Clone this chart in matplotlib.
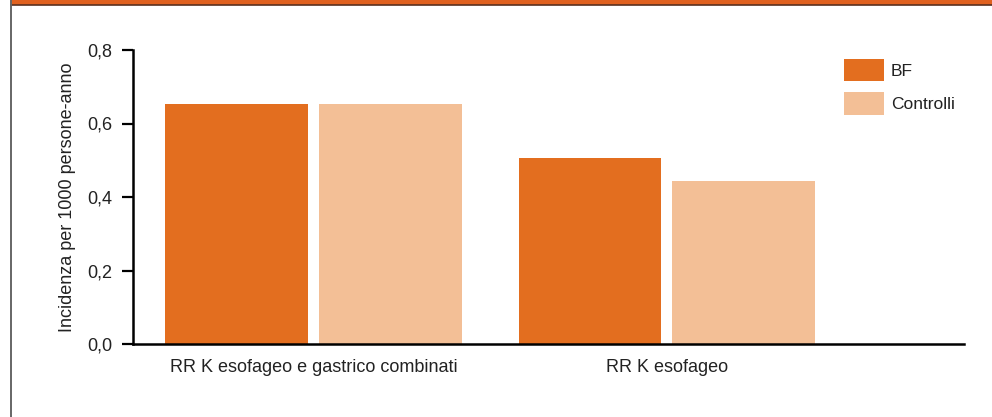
import matplotlib
matplotlib.use("Agg")
import matplotlib.pyplot as plt
from matplotlib.patches import Rectangle
from matplotlib.lines import Line2D
from matplotlib import font_manager

categories = ["RR K esofageo e gastrico combinati", "RR K esofageo"]
series_names = ["BF", "Controlli"]
bf_values = [0.653, 0.506]
controlli_values = [0.653, 0.444]
y_ticks = [0.0, 0.2, 0.4, 0.6, 0.8]
y_tick_labels = ["0,0", "0,2", "0,4", "0,6", "0,8"]
y_label = "Incidenza per 1000 persone-anno"

color_bf = "#E36E1F"
color_ctrl = "#F3BF96"

installed = {f.name for f in font_manager.fontManager.ttflist}
family = "Liberation Sans Narrow" if "Liberation Sans Narrow" in installed else "Liberation Sans"
plt.rcParams["font.family"] = [family, "DejaVu Sans"]

W, H = 992, 417
fig = plt.figure(figsize=(W / 100, H / 100), dpi=100)

# frame decorations: orange top band and grey left rule
fig.patches.append(Rectangle((11 / W, 1 - 4.5 / H), 1 - 11 / W, 4.5 / H,
                             transform=fig.transFigure, facecolor="#E0611F",
                             edgecolor="none"))
fig.lines.append(Line2D([11 / W, 1], [1 - 5 / H, 1 - 5 / H],
                        transform=fig.transFigure, color="#5a3020", lw=1.2))
fig.lines.append(Line2D([10.5 / W, 10.5 / W], [0, 1],
                        transform=fig.transFigure, color="#666666", lw=1.4))

ax = fig.add_axes([133 / W, 1 - 344 / H, (964 - 133) / W, (344 - 50) / H])

width = 0.404
offset = 0.2175
x = range(len(categories))
ax.bar([i - offset for i in x], bf_values, width, color=color_bf, label=series_names[0], zorder=1)
ax.bar([i + offset for i in x], controlli_values, width, color=color_ctrl, label=series_names[1], zorder=1)

ax.set_xlim(-0.51, 1.84)
ax.set_ylim(0, 0.8)
ax.set_yticks(y_ticks)
ax.set_yticklabels(y_tick_labels, fontsize=13, color="#222222")
ax.set_xticks(list(x))
ax.set_xticklabels(categories, fontsize=13, color="#222222")
ax.tick_params(axis="x", length=0, pad=11)
ax.tick_params(axis="y", length=8, width=1.6, pad=7, direction="out")
ax.set_ylabel(y_label, fontsize=13, color="#222222", labelpad=8)

for s in ["top", "right"]:
    ax.spines[s].set_visible(False)
for s in ["left", "bottom"]:
    ax.spines[s].set_linewidth(1.8)
    ax.spines[s].set_color("black")
    ax.spines[s].set_zorder(3)

leg = ax.legend(loc="upper left", bbox_to_anchor=((844 - 133) / (964 - 133), 1 - (59 - 50) / 294),
                frameon=False, fontsize=12.5, handlelength=2.3, handleheight=1.6,
                handletextpad=0.4, labelspacing=0.63, borderaxespad=0, borderpad=0)
for t in leg.get_texts():
    t.set_color("#222222")

fig.savefig("out.png", dpi=100)
